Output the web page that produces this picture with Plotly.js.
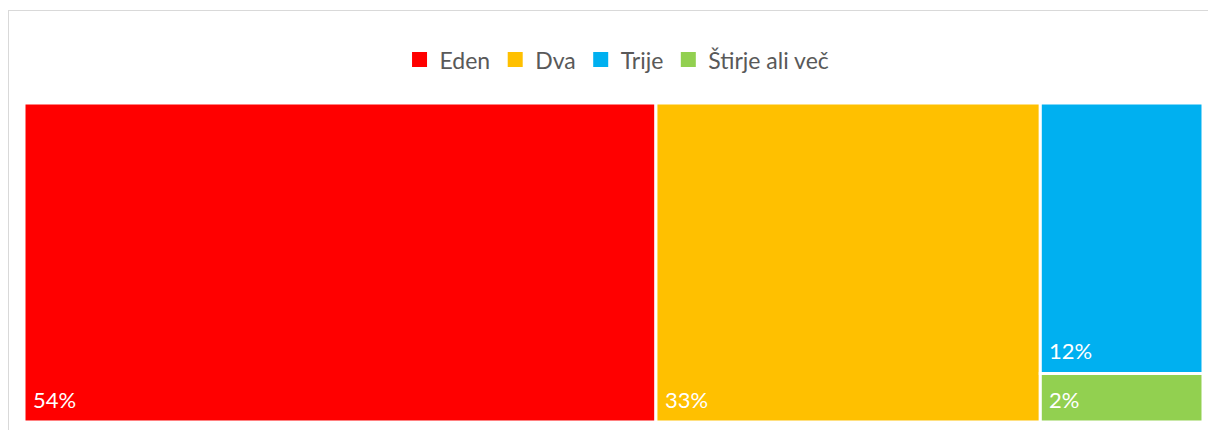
<!DOCTYPE html>
<html>
<head>
<meta charset="utf-8">
<script src="https://cdn.plot.ly/plotly-3.0.1.min.js"></script>
<style>
  html, body { margin:0; padding:0; background:#ffffff; overflow:hidden; }
  #chart { position:absolute; left:0; top:0; width:1208px; height:430px; }
  #frame { position:absolute; left:8px; top:10px; width:1400px; height:600px;
           border:1px solid #d9d9d9; pointer-events:none; }
</style>
</head>
<body>
<div id="chart"></div>
<div id="frame"></div>
<script>
// Data
const categories = ["Eden", "Dva", "Trije", "Štirje ali več"];
const values = [53.6, 32.6, 11.7, 2.1];      // estimated shares (%)
const labels = ["54%", "33%", "12%", "2%"];   // labels as printed
const columnOf = [0, 1, 2, 2];                // treemap column grouping
const colors = ["#FF0000", "#FFC000", "#00B0F0", "#92D050"];

// Treemap-like layout derived from data: column widths = column totals,
// heights inside a column proportional to share, stacked top-down.
const nCols = Math.max(...columnOf) + 1;
const colTotals = Array(nCols).fill(0);
values.forEach((v, i) => colTotals[columnOf[i]] += v);
const colStart = [];
let acc = 0;
for (let c = 0; c < nCols; c++) { colStart.push(acc); acc += colTotals[c]; }
const total = acc;

const heights = values.map((v, i) => v / colTotals[columnOf[i]] * 100);
const bases = [];
const topUsed = Array(nCols).fill(0);
values.forEach((v, i) => {
  const c = columnOf[i];
  topUsed[c] += heights[i];
  bases.push(100 - topUsed[c]);
});

const FONT = "Lato, 'Open Sans', sans-serif";

const barTraces = categories.map((name, i) => {
  const c = columnOf[i];
  return {
    type: "bar",
    name: name,
    x: [colStart[c] + colTotals[c] / 2],
    width: [colTotals[c]],
    y: [heights[i]],
    base: [bases[i]],
    marker: { color: colors[i], line: { color: "#ffffff", width: 3 } },
    hoverinfo: "name",
    showlegend: false
  };
});

// legend entries (square swatches)
const legendTraces = categories.map((name, i) => ({
  type: "scatter",
  mode: "markers",
  name: name,
  x: [null], y: [null],
  marker: { symbol: "square", size: 15, color: colors[i] },
  showlegend: true
}));

const annotations = categories.map((name, i) => ({
  x: colStart[columnOf[i]],
  y: bases[i],
  xref: "x", yref: "y",
  xanchor: "left", yanchor: "bottom",
  xshift: 7, yshift: 7,
  text: labels[i],
  showarrow: false,
  font: { family: FONT, size: 22, color: "#ffffff" }
}));

const layout = {
  width: 1208, height: 430,
  margin: { l: 23.5, r: 4.5, t: 102.5, b: 7.5, pad: 0 },
  paper_bgcolor: "rgba(0,0,0,0)",
  plot_bgcolor: "rgba(0,0,0,0)",
  barmode: "overlay",
  xaxis: { range: [0, total], visible: false, fixedrange: true },
  yaxis: { range: [0, 100], visible: false, fixedrange: true },
  showlegend: true,
  legend: {
    orientation: "h",
    x: 0.503, xanchor: "center",
    y: 1.136, yanchor: "middle",
    font: { family: FONT, size: 23, color: "#595959" },
    traceorder: "normal",
    itemclick: false
  },
  annotations: annotations
};

Plotly.newPlot("chart", barTraces.concat(legendTraces), layout,
               { displayModeBar: false, staticPlot: true });
</script>
</body>
</html>
